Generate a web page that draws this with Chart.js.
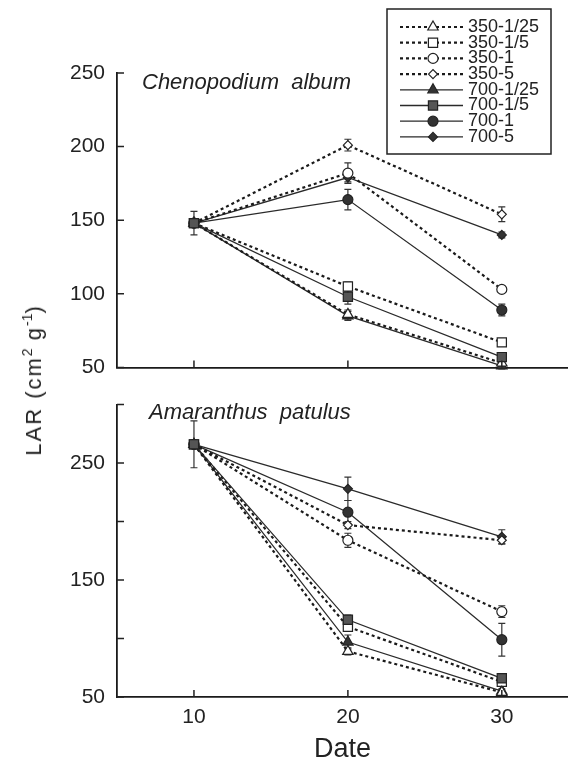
<!DOCTYPE html>
<html lang="en">
<head>
<meta charset="UTF-8">
<title>LAR of Chenopodium album and Amaranthus patulus</title>
<script src="https://cdn.jsdelivr.net/npm/chart.js"></script>
<style>
    body {
        margin: 0;
        padding: 0;
        background: #fff;
        width: 568px;
        height: 768px;
        overflow: hidden;
        position: relative;
        font-family: 'Liberation Sans', Arial, sans-serif;
    }
    canvas {
        position: absolute;
        left: 0;
    }
    #topChart { top: 0; }
    #bottomChart { top: 380px; }
    .ytitle {
        position: absolute;
        left: 34px;
        top: 380px;
        transform: translate(-50%, -50%) rotate(-90deg);
        font-size: 22px;
        letter-spacing: 2px;
        white-space: nowrap;
        color: #222;
    }
    .ytitle sup {
        font-size: 14px;
        line-height: 0;
        vertical-align: 9px;
        letter-spacing: 0;
    }
</style>
</head>
<body>
<canvas id="topChart" width="568" height="392"></canvas>
<canvas id="bottomChart" width="568" height="388"></canvas>
<div class="ytitle">LAR (cm<sup>2</sup> g<sup>-1</sup>)</div>

<script>
    // ---- data ----
    const days = [10, 20, 30];
    const xTicks = [10, 20, 30];
    const topYTicks = [50, 100, 150, 200, 250];
    const bottomYTicks = [50, 100, 150, 200, 250, 300];
    const bottomYLabels = [50, 150, 250];
    const seriesNames = ['350-1/25', '350-1/5', '350-1', '350-5', '700-1/25', '700-1/5', '700-1', '700-5'];

    // Chenopodium album (LAR, +/- error)
    const chen350_125 = [148, 86, 53];
    const chen350_15 = [148, 105, 67];
    const chen350_1 = [148, 182, 103];
    const chen350_5 = [148, 201, 154];
    const chen700_125 = [148, 85, 51];
    const chen700_15 = [148, 98, 57];
    const chen700_1 = [148, 164, 89];
    const chen700_5 = [148, 179, 140];
    const chenErr350_125 = [0, 3, 2];
    const chenErr350_15 = [0, 3, 2];
    const chenErr350_1 = [0, 7, 2];
    const chenErr350_5 = [0, 4, 5];
    const chenErr700_125 = [0, 3, 2];
    const chenErr700_15 = [8, 5, 3];
    const chenErr700_1 = [0, 7, 4];
    const chenErr700_5 = [0, 3, 2];

    // Amaranthus patulus
    const amar350_125 = [266, 89, 54];
    const amar350_15 = [266, 110, 63];
    const amar350_1 = [266, 184, 123];
    const amar350_5 = [266, 197, 184];
    const amar700_125 = [266, 97, 55];
    const amar700_15 = [266, 116, 66];
    const amar700_1 = [266, 208, 99];
    const amar700_5 = [266, 228, 187];
    const amarErr350_125 = [0, 3, 2];
    const amarErr350_15 = [0, 3, 3];
    const amarErr350_1 = [0, 6, 5];
    const amarErr350_5 = [0, 3, 3];
    const amarErr700_125 = [0, 6, 2];
    const amarErr700_15 = [20, 4, 3];
    const amarErr700_1 = [0, 10, 14];
    const amarErr700_5 = [0, 10, 6];

    // ---- styles ----
    const markers = ['triangle', 'rect', 'circle', 'rectRot'];
    const markerSize = { triangle: 6, rect: 6.5, circle: 5, rectRot: 4.5 };

    function makeSets(values, errors) {
        return values.map((vals, i) => {
            const filled = i >= 4;
            const style = markers[i % 4];
            return {
                label: seriesNames[i],
                data: days.map((d, j) => ({ x: d, y: vals[j] })),
                errors: errors[i],
                borderColor: filled ? '#2a2a2a' : '#1a1a1a',
                borderWidth: filled ? 1.3 : 2.2,
                borderDash: filled ? [] : [3, 3],
                pointStyle: style,
                pointRadius: markerSize[style],
                pointBorderWidth: 1.2,
                pointBorderColor: '#222',
                pointBackgroundColor: filled ? (style === 'rect' ? '#555' : '#333') : '#fff',
                order: i === 5 ? 0 : 1,
                tension: 0,
                clip: false
            };
        });
    }

    const chenSets = makeSets(
        [chen350_125, chen350_15, chen350_1, chen350_5, chen700_125, chen700_15, chen700_1, chen700_5],
        [chenErr350_125, chenErr350_15, chenErr350_1, chenErr350_5, chenErr700_125, chenErr700_15, chenErr700_1, chenErr700_5]
    );
    const amarSets = makeSets(
        [amar350_125, amar350_15, amar350_1, amar350_5, amar700_125, amar700_15, amar700_1, amar700_5],
        [amarErr350_125, amarErr350_15, amarErr350_1, amarErr350_5, amarErr700_125, amarErr700_15, amarErr700_1, amarErr700_5]
    );

    // ---- plugins ----
    function drawMarker(ctx, opts, x, y) {
        if (Chart.helpers && Chart.helpers.drawPoint) {
            Chart.helpers.drawPoint(ctx, opts, x, y);
        } else {
            ctx.beginPath();
            ctx.arc(x, y, opts.radius, 0, Math.PI * 2);
            ctx.fill();
            ctx.stroke();
        }
    }

    const errorBars = {
        id: 'errorBars',
        beforeDatasetsDraw(chart) {
            const { ctx, scales: { x, y } } = chart;
            ctx.save();
            ctx.strokeStyle = '#333';
            ctx.lineWidth = 1.2;
            chart.data.datasets.forEach(ds => {
                ds.data.forEach((p, i) => {
                    const e = ds.errors[i];
                    if (!e) return;
                    const px = x.getPixelForValue(p.x);
                    const y1 = y.getPixelForValue(p.y - e);
                    const y2 = y.getPixelForValue(p.y + e);
                    ctx.beginPath();
                    ctx.moveTo(px, y1); ctx.lineTo(px, y2);
                    ctx.moveTo(px - 3.5, y1); ctx.lineTo(px + 3.5, y1);
                    ctx.moveTo(px - 3.5, y2); ctx.lineTo(px + 3.5, y2);
                    ctx.stroke();
                });
            });
            ctx.restore();
        }
    };

    // tick marks point into the plot
    const inwardTicks = {
        id: 'inwardTicks',
        afterDraw(chart) {
            const { ctx, chartArea: a, scales: { x, y } } = chart;
            ctx.save();
            ctx.strokeStyle = '#222';
            ctx.lineWidth = 1.5;
            ctx.beginPath();
            x.ticks.forEach(t => {
                const px = x.getPixelForValue(t.value);
                ctx.moveTo(px, a.bottom);
                ctx.lineTo(px, a.bottom - 7);
            });
            y.ticks.forEach(t => {
                const py = y.getPixelForValue(t.value);
                ctx.moveTo(a.left, py);
                ctx.lineTo(a.left + 7, py);
            });
            ctx.stroke();
            ctx.restore();
        }
    };

    const species = {
        id: 'species',
        afterDraw(chart, args, opts) {
            const { ctx, chartArea: a } = chart;
            ctx.save();
            ctx.font = "italic 22px 'Liberation Sans', Arial, sans-serif";
            ctx.fillStyle = '#222';
            ctx.textBaseline = 'middle';
            ctx.fillText(opts.text, a.left + opts.dx, a.top + opts.dy);
            ctx.restore();
        }
    };

    const lineLegend = {
        id: 'lineLegend',
        afterDraw(chart, args, opts) {
            if (!opts.show) return;
            const ctx = chart.ctx;
            ctx.save();
            ctx.fillStyle = '#fff';
            ctx.fillRect(387, 9, 164, 145);
            ctx.strokeStyle = '#222';
            ctx.lineWidth = 1.5;
            ctx.strokeRect(387, 9, 164, 145);
            ctx.font = "18px 'Liberation Sans', Arial, sans-serif";
            ctx.textBaseline = 'middle';
            chart.data.datasets.forEach((ds, i) => {
                const ry = 27 + i * 15.7;
                ctx.strokeStyle = ds.borderColor;
                ctx.lineWidth = ds.borderWidth;
                ctx.setLineDash(ds.borderDash);
                ctx.beginPath();
                ctx.moveTo(400, ry);
                ctx.lineTo(463, ry);
                ctx.stroke();
                ctx.setLineDash([]);
                ctx.fillStyle = ds.pointBackgroundColor;
                ctx.strokeStyle = ds.pointBorderColor;
                ctx.lineWidth = ds.pointBorderWidth;
                drawMarker(ctx, { pointStyle: ds.pointStyle, radius: ds.pointRadius, rotation: 0, borderWidth: ds.pointBorderWidth }, 433, ry);
                ctx.fillStyle = '#222';
                ctx.fillText(ds.label, 468, ry);
            });
            ctx.restore();
        }
    };

    Chart.defaults.font.family = "'Liberation Sans', Arial, sans-serif";
    Chart.defaults.color = '#222';

    function makeChart(id, sets, yTicks, yMax, yLabels, cfg) {
        return new Chart(document.getElementById(id), {
            type: 'line',
            data: { datasets: sets },
            options: {
                responsive: false,
                animation: false,
                layout: { autoPadding: false, padding: { top: cfg.padTop, left: 0, right: 0, bottom: 0 } },
                plugins: {
                    legend: { display: false },
                    tooltip: { enabled: false },
                    species: cfg.species,
                    lineLegend: { show: cfg.legend }
                },
                scales: {
                    x: {
                        type: 'linear',
                        min: 5,
                        max: 34.3,
                        afterBuildTicks: s => { s.ticks = xTicks.map(v => ({ value: v })); },
                        afterFit: s => {
                            s.height = cfg.xHeight;
                            s.paddingLeft = 0;
                            s.paddingRight = 0;
                        },
                        grid: { display: true, drawOnChartArea: false, drawTicks: false },
                        border: { color: '#1a1a1a', width: 1.8 },
                        ticks: { display: cfg.xLabels, padding: 8, color: '#222', font: { size: 21 } },
                        title: {
                            display: cfg.xLabels,
                            text: 'Date',
                            color: '#222',
                            font: { size: 27 },
                            padding: { top: 0, bottom: 2 }
                        }
                    },
                    y: {
                        min: 50,
                        max: yMax,
                        afterBuildTicks: s => { s.ticks = yTicks.map(v => ({ value: v })); },
                        afterFit: s => { s.width = 117; },
                        grid: { display: true, drawOnChartArea: false, drawTicks: false },
                        border: { color: '#1a1a1a', width: 1.8 },
                        ticks: {
                            padding: 12,
                            color: '#222',
                            font: { size: 21 },
                            callback: v => yLabels.includes(v) ? String(v) : ''
                        }
                    }
                }
            },
            plugins: [errorBars, inwardTicks, species, lineLegend]
        });
    }

    makeChart('topChart', chenSets, topYTicks, 250, topYTicks, {
        padTop: 73, xHeight: 20, xLabels: false, legend: true,
        species: { text: 'Chenopodium  album', dx: 25, dy: 10 }
    });
    makeChart('bottomChart', amarSets, bottomYTicks, 300, bottomYLabels, {
        padTop: 18, xHeight: 71, xLabels: true, legend: false,
        species: { text: 'Amaranthus  patulus', dx: 32, dy: 8 }
    });
</script>
</body>
</html>
